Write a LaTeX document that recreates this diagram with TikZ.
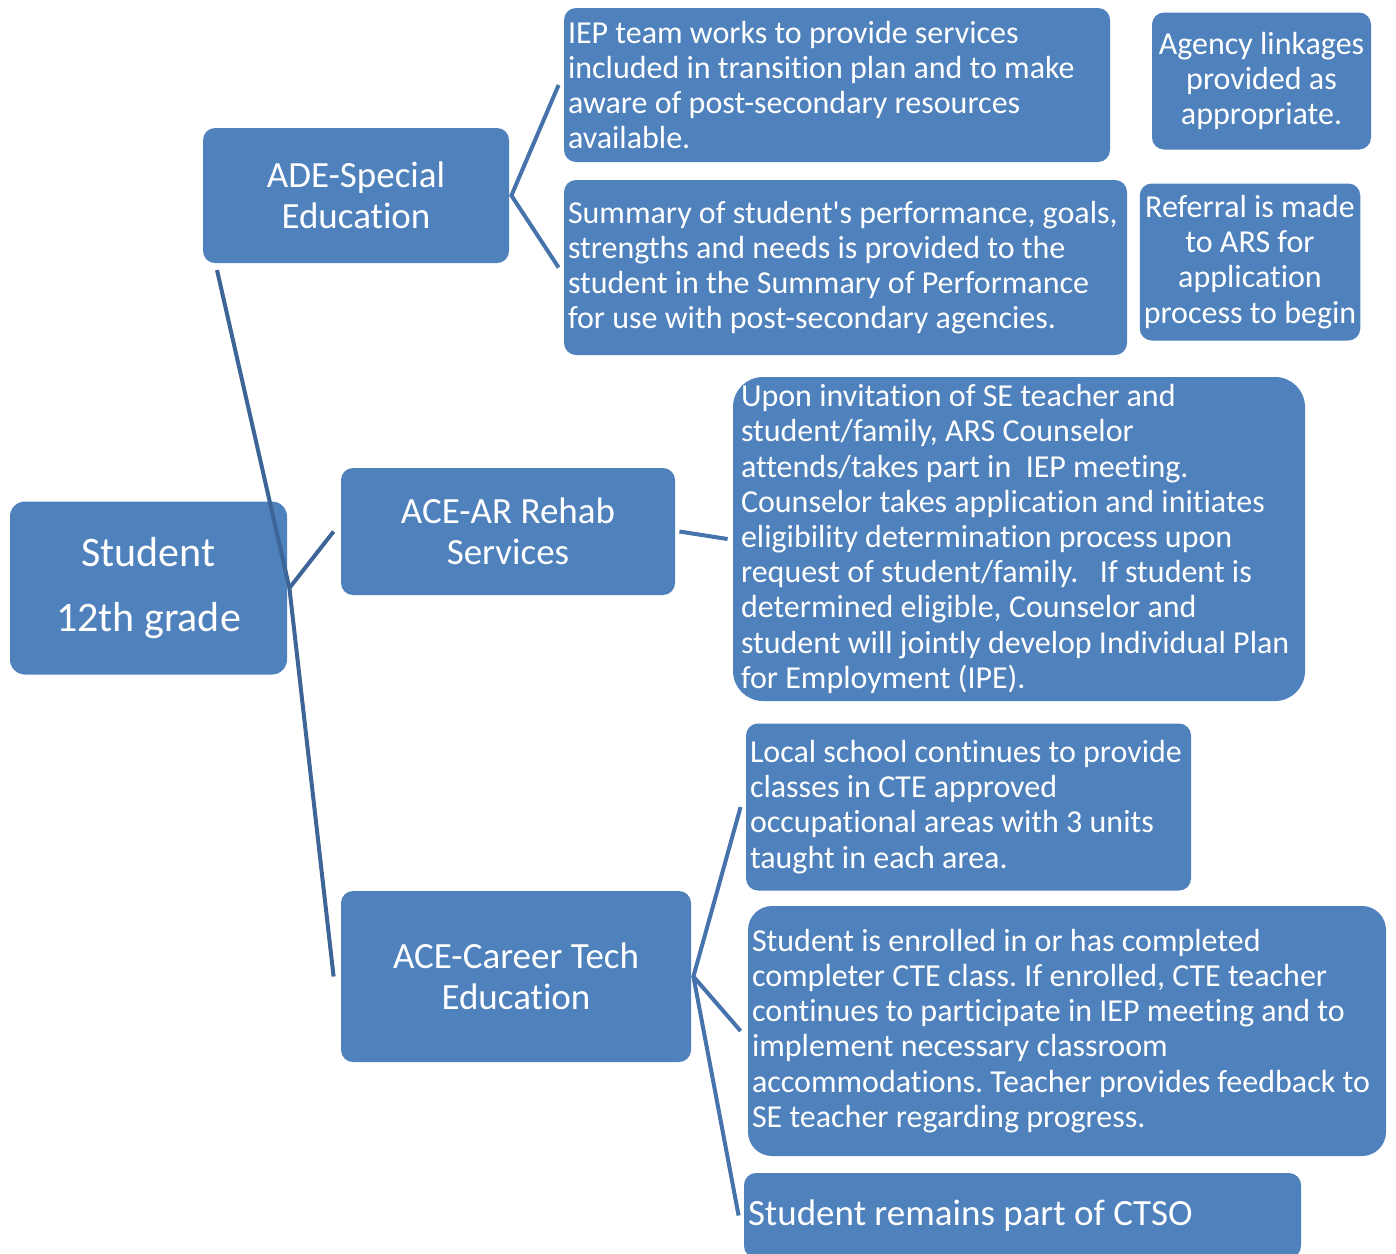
\documentclass[tikz,border=0pt]{standalone}
\usepackage{fontspec}
\setmainfont{Carlito}[Ligatures={NoCommon}]
\definecolor{cajaazul}{HTML}{4F81BD}
\definecolor{lineaazul}{HTML}{4673AB}
\definecolor{troncoazul}{HTML}{3D6597}
\frenchspacing
\begin{document}
\begin{tikzpicture}[x=0.5pt,y=-0.5pt,
    caja/.style={
        rectangle,rounded corners=6pt,
        fill=cajaazul,text=white,inner sep=2pt
    },
    cajatxt/.style={caja,align=flush left,font=\fontsize{16}{17.6}\selectfont},
    cajacen/.style={caja,align=center,font=\fontsize{16}{17.6}\selectfont},
    titulo/.style={caja,align=center,font=\fontsize{18.5}{20.3}\selectfont},
    rama/.style={draw=lineaazul,line width=2pt},
    tronco/.style={draw=troncoazul,line width=2pt}
    ]
    \path[use as bounding box,clip] (0,0) rectangle (1396,1253);

    \node [caja,align=center,font=\fontsize{21}{32.5}\selectfont,
        minimum width=138.5pt,minimum height=86.5pt,rounded corners=7.5pt]
        (alumno) at (148.5,588) {Student\\12th grade};

    \node [titulo,minimum width=153pt,minimum height=67.5pt] (ade) at (356,195.5) {ADE-Special\\Education};
    \node [titulo,minimum width=167pt,minimum height=63.5pt] (acear) at (508,531.5) {ACE-AR Rehab\\Services};
    \node [titulo,minimum width=175pt,minimum height=85.5pt] (acecte) at (516,976.5) {ACE-Career Tech\\Education};

    \node [cajatxt,text width=269pt,minimum height=77pt] (iep) at (837,85)
        {IEP team works to provide services\\included in transition plan and to make\\aware of post-secondary resources\\available.};
    \node [cajatxt,text width=277.5pt,minimum height=87.5pt] (resumen) at (845.5,267.5)
        {Summary of student\textquotesingle s performance, goals,\\strengths and needs is provided to the\\student in the Summary of Performance\\for use with post-secondary agencies.};
    \node [cajacen,minimum width=109.5pt,minimum height=68.5pt] (agencia) at (1261.5,81)
        {Agency linkages\\provided as\\appropriate.};
    \node [cajacen,minimum width=110pt,minimum height=78.5pt] (referido) at (1250,262)
        {Referral is made\\to ARS for\\application\\process to begin};

    \node [cajatxt,text width=278pt,inner xsep=4pt,minimum height=162pt,rounded corners=15pt] (invitacion) at (1019,539)
        {Upon invitation of SE teacher and\\student/family, ARS Counselor\\attends/takes part in\ \ IEP meeting.\\Counselor takes application and initiates\\eligibility determination process upon\\request of student/family.\ \ \ If student is\\determined eligible, Counselor and\\student will jointly develop Individual Plan\\for Employment (IPE).};

    \node [cajatxt,text width=218.5pt,minimum height=83.5pt] (escuela) at (968.5,807)
        {Local school continues to provide\\classes in CTE approved\\occupational areas with 3 units\\taught in each area.};
    \node [cajatxt,text width=315pt,minimum height=125pt,rounded corners=12pt] (inscrito) at (1067,1031)
        {Student is enrolled in or has completed\\completer CTE class. If enrolled, CTE teacher\\continues to participate in IEP meeting and to\\implement necessary classroom\\accommodations. Teacher provides feedback to\\SE teacher regarding progress.};
    \node [caja,align=flush left,font=\fontsize{18.5}{20.3}\selectfont,text width=274.5pt,minimum height=42.5pt] (ctso) at (1022.5,1215.5)
        {Student remains part of CTSO};

    \coordinate (adeend) at (217,270);
    \draw [tronco] (adeend) -- ([xshift=1pt]alumno.east) -- ([xshift=-3.5pt]acecte.west);
    \draw [tronco] ([xshift=1pt]alumno.east) -- ([xshift=-3.5pt]acear.west);

    \draw [rama] ([xshift=-2.5pt]iep.west) -- ([xshift=1pt]ade.east) -- ([xshift=-2.5pt]resumen.west);
    \draw [rama] ([xshift=2pt]acear.east) -- ([xshift=-2.5pt]invitacion.west);
    \draw [rama] ([xshift=-2.5pt]escuela.west) -- ([xshift=1pt]acecte.east) -- ([xshift=-3.5pt]inscrito.west);
    \draw [rama] ([xshift=1pt]acecte.east) -- ([xshift=-2.5pt]ctso.west);
\end{tikzpicture}
\end{document}
